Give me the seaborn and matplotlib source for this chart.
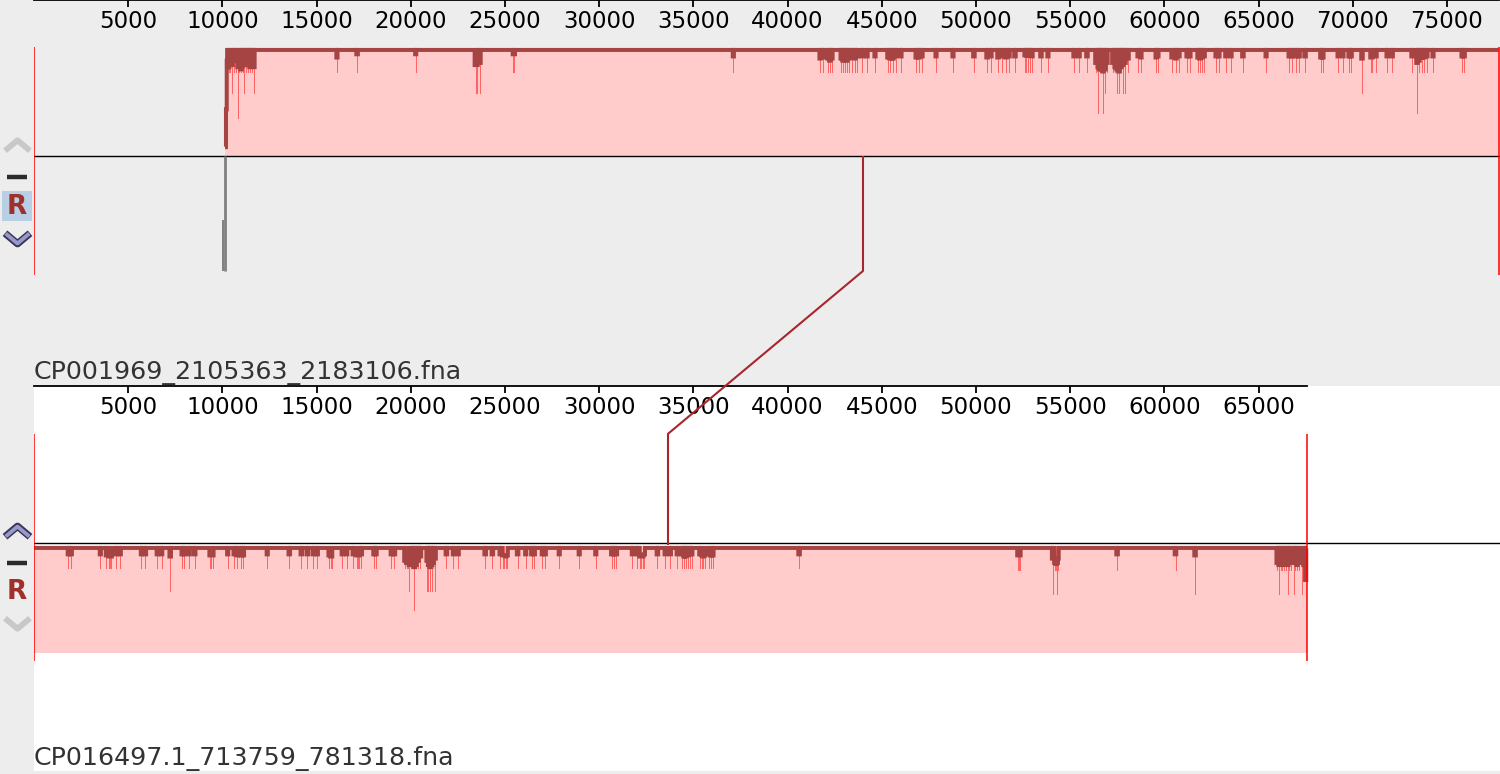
import numpy as np
import matplotlib
matplotlib.use('Agg')
import matplotlib.pyplot as plt
from matplotlib.patches import ConnectionPatch
from matplotlib.path import Path
import seaborn as sns

sns.set_style('white')
plt.rcParams['font.family'] = ['DejaVu Sans']

W, H = 1500, 774
GREY_BG = '#ededed'
PINK = '#ffcbcb'
SPIKE = '#ff6464'
DARK = '#a64444'
LINK = '#a8262b'

# ---- genome 1 (top) ----
top_name = 'CP001969_2105363_2183106.fna'
top_len = 77743
top_block = [10140, 77743]
top_ticks = [5000, 10000, 15000, 20000, 25000, 30000, 35000, 40000,
             45000, 50000, 55000, 60000, 65000, 70000, 75000]
top_pos = [10150, 10190, 10230, 10330, 10430, 10510, 10600, 10700, 10830, 10900,
           10990, 11080, 11170, 11260, 11350, 11460, 11560, 11680,
           16083, 17145, 20260, 23435, 23515, 23674, 25440, 25500, 37119,
           41722, 41881, 42146, 42252, 42358, 42836, 42942, 43048, 43154, 43260,
           43419, 43579, 43685, 43950, 44215, 44640,
           45330, 45436, 45595, 45754, 46020, 46816, 46975, 47134, 47878, 48780,
           49895, 50585, 50798, 51169, 51381, 51594, 51753, 52072,
           52603, 52680, 52760, 52868, 52974, 53452, 53824, 55203, 55469, 55894,
           56371, 56478, 56560, 56637, 56743, 56849, 56955, 57274, 57380, 57486,
           57592, 57698, 57804, 57910, 58070,
           58600, 58760, 59556, 59662, 60405, 60618, 60777, 61202, 61361, 61786,
           61892, 61999, 62105, 62742, 62901, 63272, 63538, 64175, 65396,
           66617, 66776, 66988, 67147, 67466, 68315, 68422, 69218, 69484, 69802,
           69908, 70492, 70970, 71023, 71236, 71820, 72085,
           73147, 73413, 73519, 73678, 73784, 73943, 74262, 75801, 75907]
top_low = [0.10, 0.45, 0.58, 0.78, 0.78, 0.58, 0.78, 0.78, 0.35, 0.78,
           0.78, 0.78, 0.58, 0.78, 0.78, 0.78, 0.78, 0.58,
           0.78, 0.78, 0.78, 0.58, 0.58, 0.58, 0.78, 0.78, 0.78,
           0.78, 0.78, 0.78, 0.78, 0.78, 0.78, 0.78, 0.78, 0.78, 0.78,
           0.78, 0.78, 0.78, 0.78, 0.78, 0.78,
           0.78, 0.78, 0.78, 0.78, 0.78, 0.78, 0.78, 0.78, 0.78, 0.78,
           0.78, 0.78, 0.78, 0.78, 0.78, 0.78, 0.78, 0.78,
           0.78, 0.78, 0.78, 0.78, 0.78, 0.78, 0.78, 0.78, 0.78, 0.78,
           0.78, 0.40, 0.78, 0.78, 0.40, 0.58, 0.78, 0.78, 0.78, 0.58,
           0.58, 0.78, 0.58, 0.58, 0.78,
           0.78, 0.78, 0.78, 0.78, 0.78, 0.78, 0.78, 0.78, 0.78, 0.78,
           0.78, 0.78, 0.78, 0.78, 0.78, 0.78, 0.78, 0.78, 0.78,
           0.78, 0.78, 0.78, 0.78, 0.78, 0.78, 0.78, 0.78, 0.78, 0.78,
           0.78, 0.58, 0.78, 0.78, 0.78, 0.78, 0.78,
           0.78, 0.40, 0.78, 0.78, 0.78, 0.78, 0.78, 0.78, 0.78]
top_mean = [0.10, 0.45, 0.90, 0.84, 0.88, 0.86, 0.92, 0.90, 0.84, 0.86,
            0.82, 0.85, 0.92, 0.90, 0.86, 0.84, 0.86, 0.84,
            0.93, 0.96, 0.96, 0.86, 0.86, 0.88, 0.96, 0.96, 0.94,
            0.92, 0.93, 0.92, 0.90, 0.92, 0.92, 0.90, 0.92, 0.90, 0.92,
            0.93, 0.92, 0.94, 0.94, 0.94, 0.94,
            0.93, 0.92, 0.92, 0.94, 0.94, 0.93, 0.93, 0.94, 0.94, 0.94,
            0.94, 0.93, 0.94, 0.93, 0.94, 0.93, 0.94, 0.94,
            0.95, 0.95, 0.95, 0.95, 0.94, 0.94, 0.94, 0.94, 0.94, 0.94,
            0.88, 0.84, 0.82, 0.82, 0.80, 0.82, 0.88, 0.88, 0.84, 0.82,
            0.80, 0.84, 0.86, 0.88, 0.92,
            0.94, 0.93, 0.93, 0.94, 0.93, 0.92, 0.94, 0.94, 0.94, 0.93,
            0.92, 0.93, 0.94, 0.94, 0.94, 0.94, 0.94, 0.94, 0.94,
            0.94, 0.94, 0.94, 0.94, 0.94, 0.93, 0.93, 0.94, 0.94, 0.94,
            0.94, 0.92, 0.93, 0.93, 0.94, 0.94, 0.94,
            0.94, 0.88, 0.90, 0.93, 0.93, 0.94, 0.94, 0.94, 0.94]
# grey mark under the centre line at the start of the top block
grey_pos = [10050, 10130]
grey_lo = [-1.065, -1.065]
grey_hi = [-0.59, 0.0]

# ---- genome 2 (bottom) ----
bot_name = 'CP016497.1_713759_781318.fna'
bot_len = 67559
bot_block = [0, 67559]
bot_ticks = [5000, 10000, 15000, 20000, 25000, 30000, 35000, 40000,
             45000, 50000, 55000, 60000, 65000]
bot_pos = [1821, 1980, 3519, 3838, 3981, 4040, 4087, 4369, 4581, 5696,
           5908, 6545, 6778, 7235, 7872, 7978, 8243, 8530, 9342, 9410, 9485,
           10282, 10632, 10791, 11004, 11120, 12384, 13552, 14189, 14507, 14826,
           15038, 15675, 15740, 15800, 16365, 16598, 16948, 17145, 17200, 17251,
           17373, 18047, 18153, 18966, 19125,
           19693, 19780, 19852, 19921, 20011, 20101, 20186, 20277, 20399, 20505,
           20861, 20940, 21020, 21110, 21200, 21301,
           21885, 22257, 22522, 23955, 24327, 24751, 24895, 24970, 25040, 25107,
           25675, 26100, 26418, 26556, 26981, 27140, 27883, 28944, 29821,
           30670, 30776, 30909, 31758, 32024, 32166, 32240, 32310, 32395, 33085,
           33510, 33775, 34147, 34412, 34500, 34600, 34698, 34820, 34911, 35351,
           35457, 35530, 35600, 35845, 35935, 36025,
           40606, 52230, 52284, 52340, 54068, 54195, 54260, 54322, 54355, 57486,
           60591, 61626,
           65978, 66084, 66170, 66260, 66350, 66450, 66562, 66640, 66722, 66881,
           66960, 67041, 67147, 67285, 67412, 67500]
bot_low = [0.79, 0.79, 0.79, 0.79, 0.79, 0.79, 0.79, 0.79, 0.79, 0.79,
           0.79, 0.79, 0.79, 0.58, 0.79, 0.79, 0.79, 0.79, 0.79, 0.79, 0.79,
           0.79, 0.79, 0.79, 0.79, 0.79, 0.79, 0.79, 0.79, 0.79, 0.79,
           0.79, 0.79, 0.79, 0.79, 0.79, 0.79, 0.79, 0.79, 0.79, 0.79,
           0.79, 0.79, 0.79, 0.79, 0.79,
           0.79, 0.79, 0.79, 0.58, 0.79, 0.79, 0.40, 0.79, 0.79, 0.79,
           0.58, 0.58, 0.58, 0.58, 0.79, 0.58,
           0.79, 0.79, 0.79, 0.79, 0.79, 0.79, 0.79, 0.79, 0.79, 0.79,
           0.79, 0.79, 0.79, 0.79, 0.79, 0.79, 0.79, 0.79, 0.79,
           0.79, 0.79, 0.79, 0.79, 0.79, 0.79, 0.79, 0.79, 0.79, 0.79,
           0.79, 0.79, 0.79, 0.79, 0.79, 0.79, 0.79, 0.79, 0.79, 0.79,
           0.79, 0.79, 0.79, 0.79, 0.79, 0.79,
           0.79, 0.78, 0.78, 0.78, 0.55, 0.78, 0.78, 0.55, 0.78, 0.78,
           0.78, 0.55,
           0.78, 0.55, 0.78, 0.78, 0.78, 0.78, 0.55, 0.78, 0.78, 0.55,
           0.78, 0.78, 0.78, 0.55, 0.78, 0.70]
bot_mean = [0.94, 0.94, 0.94, 0.93, 0.92, 0.92, 0.92, 0.94, 0.94, 0.94,
            0.94, 0.94, 0.94, 0.92, 0.94, 0.94, 0.94, 0.94, 0.93, 0.93, 0.93,
            0.94, 0.94, 0.93, 0.93, 0.93, 0.94, 0.94, 0.94, 0.94, 0.94,
            0.94, 0.93, 0.92, 0.92, 0.94, 0.94, 0.94, 0.93, 0.93, 0.93,
            0.94, 0.94, 0.94, 0.94, 0.94,
            0.88, 0.86, 0.86, 0.84, 0.86, 0.84, 0.82, 0.84, 0.88, 0.92,
            0.88, 0.84, 0.82, 0.84, 0.86, 0.90,
            0.94, 0.94, 0.94, 0.94, 0.94, 0.94, 0.93, 0.93, 0.92, 0.93,
            0.94, 0.94, 0.94, 0.94, 0.94, 0.94, 0.94, 0.94, 0.94,
            0.94, 0.94, 0.94, 0.94, 0.94, 0.92, 0.92, 0.92, 0.94, 0.94,
            0.94, 0.94, 0.94, 0.94, 0.92, 0.92, 0.93, 0.94, 0.94, 0.94,
            0.93, 0.92, 0.93, 0.94, 0.93, 0.93,
            0.94, 0.93, 0.93, 0.93, 0.90, 0.86, 0.85, 0.86, 0.90, 0.94,
            0.94, 0.93,
            0.86, 0.84, 0.86, 0.88, 0.84, 0.86, 0.84, 0.88, 0.86, 0.90,
            0.86, 0.84, 0.88, 0.86, 0.84, 0.70]

# matched position linking the two genomes
link_top = 44000
link_bot = 33650

BP_PER_PX = 53.08
XMAX = 1466 * BP_PER_PX


def draw_profile(ax, block, pos, low, mean, base):
    s, e = block
    ax.fill_between([s, e], base, base + 1, color=PINK, lw=0, zorder=1)
    ax.vlines(pos, base + np.array(low), base + 1, color=SPIKE, lw=0.72,
              antialiased=False, zorder=2)
    grid = np.arange(s, e + 1, 20.0)
    prof = np.ones_like(grid)
    for p, m in zip(pos, mean):
        hit = np.abs(grid - p) <= 35
        prof[hit] = np.minimum(prof[hit], m)
    sns.lineplot(x=grid, y=base + prof - 0.018, ax=ax, color=DARK, linewidth=2.9,
                 drawstyle='steps-mid', estimator=None, legend=False, zorder=3,
                 solid_joinstyle='miter', solid_capstyle='butt')


def setup_axis(ax, length, ticks, ylim, face):
    ax.set_facecolor(face)
    ax.set_xlim(0, XMAX)
    ax.set_ylim(*ylim)
    for side in ['left', 'right', 'bottom']:
        ax.spines[side].set_visible(False)
    ax.spines['top'].set_bounds(0, length)
    ax.spines['top'].set_linewidth(1.3)
    ax.spines['top'].set_color('black')
    ax.set_yticks([])
    ax.set_xticks(ticks, labels=[str(t) for t in ticks])
    ax.xaxis.tick_top()
    ax.tick_params(axis='x', direction='in', length=5.2, width=1.3, pad=-23.5,
                   labelsize=16.5, labelcolor='black', color='black')
    ax.set_xlabel('')
    ax.set_ylabel('')


fig = plt.figure(figsize=(15, 7.74), dpi=100, facecolor=GREY_BG)
ax_top = fig.add_axes([34 / W, 388 / H, 1466 / W, 386 / H])
ax_bot = fig.add_axes([34 / W, 3 / H, 1466 / W, 385 / H])

# top genome
setup_axis(ax_top, top_len, top_ticks, (-2.1296, 1.4444), GREY_BG)
draw_profile(ax_top, top_block, top_pos, top_low, top_mean, 0.0)
ax_top.axhline(0, color='black', lw=1.0, zorder=4)
ax_top.vlines([0, top_len], -1.10, 1.01, color='#ff0000', lw=1.1, zorder=5)
ax_top.vlines(grey_pos, grey_lo, grey_hi, color='#808080', lw=[1.4, 2.0], zorder=4)
ax_top.vlines(link_top, -1.065, 0, color=LINK, lw=1.5, zorder=5)
ax_top.text(0, -2.065, top_name, fontsize=18.2, color='#333333', va='baseline', ha='left')

# bottom genome
setup_axis(ax_bot, bot_len, bot_ticks, (-2.1308, 1.4673), 'white')
draw_profile(ax_bot, bot_block, bot_pos, bot_low, bot_mean, -1.028)
ax_bot.axhline(0, color='black', lw=1.0, zorder=4)
ax_bot.vlines([0, bot_len], -1.10, 1.02, color='#ff0000', lw=1.1, zorder=5)
ax_bot.vlines(link_bot, -0.02, 1.02, color=LINK, lw=1.5, zorder=5)
ax_bot.text(0, -2.075, bot_name, fontsize=18.2, color='#333333', va='baseline', ha='left')

con = ConnectionPatch(xyA=(link_top, -1.065), coordsA=ax_top.transData,
                      xyB=(link_bot, 1.02), coordsB=ax_bot.transData,
                      color=LINK, lw=1.5)
fig.add_artist(con)

# left hand control icons
ax_ic = fig.add_axes([0, 0, 34 / W, 1])
ax_ic.set_xlim(0, 34)
ax_ic.set_ylim(H, 0)
ax_ic.axis('off')
up = Path([(-1, -0.42), (0, 0.42), (1, -0.42)], [Path.MOVETO, Path.LINETO, Path.LINETO])
down = Path([(-1, 0.42), (0, -0.42), (1, 0.42)], [Path.MOVETO, Path.LINETO, Path.LINETO])


def chevron(y, path, active):
    if active:
        ax_ic.plot(17, y, marker=path, ms=18, mfc='none', mec='#353555', mew=5.2)
        ax_ic.plot(17, y, marker=path, ms=17, mfc='none', mec='#9898cc', mew=2.8)
    else:
        ax_ic.plot(17, y, marker=path, ms=18, mfc='none', mec='#c8c8c8', mew=4.2)


chevron(145, up, False)
ax_ic.plot(17, 177, marker='_', ms=14, mew=3.2, color='#2b2b2b')
ax_ic.plot(17, 206, marker='s', ms=21.5, color='#b8cfe6', mew=0)
ax_ic.text(17, 207, 'R', fontsize=19, fontweight='bold', color='#a0302a', ha='center', va='center')
chevron(238, down, True)

chevron(531, up, True)
ax_ic.plot(17, 563, marker='_', ms=14, mew=3.2, color='#2b2b2b')
ax_ic.text(17, 592, 'R', fontsize=19, fontweight='bold', color='#a0302a', ha='center', va='center')
chevron(623, down, False)

fig.savefig('out.png', dpi=100, facecolor=GREY_BG)
